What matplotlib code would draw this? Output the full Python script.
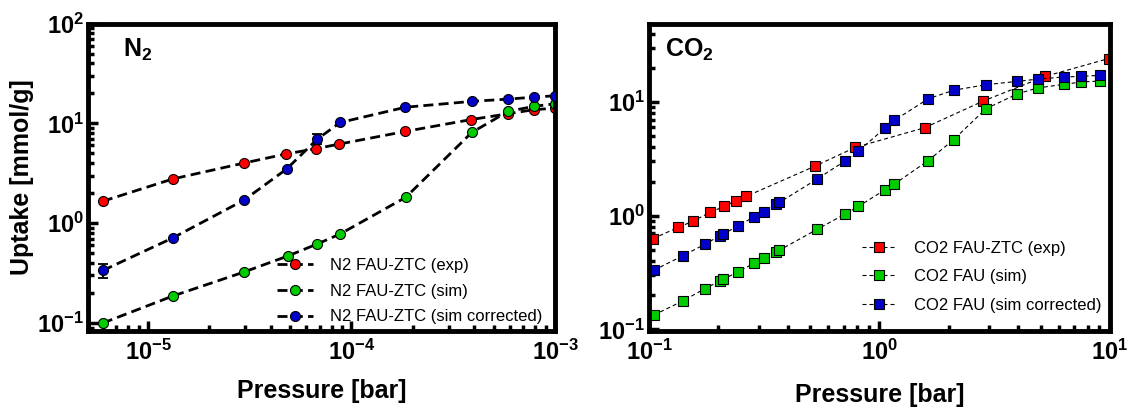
import numpy as np
import matplotlib
matplotlib.use("Agg")
import matplotlib.pyplot as plt
from matplotlib.ticker import LogLocator, FuncFormatter, NullFormatter

plt.rcParams["font.family"] = ["Liberation Sans", "DejaVu Sans"]
plt.rcParams["mathtext.fontset"] = "custom"
plt.rcParams["mathtext.rm"] = "Liberation Sans:bold"
plt.rcParams["mathtext.bf"] = "Liberation Sans:bold"
plt.rcParams["mathtext.it"] = "Liberation Sans:bold"
plt.rcParams["mathtext.default"] = "bf"

RED = "#ff0000"
GREEN = "#00cc00"
BLUE = "#0000c8"

# ---- N2 panel data (pressure in bar, uptake in mmol/g)
n2_exp_p = [6.0e-6, 1.32e-5, 2.96e-5, 4.75e-5, 6.7e-5, 8.7e-5, 1.84e-4, 3.86e-4, 5.9e-4, 7.87e-4, 1.0e-3]
n2_exp_q = [1.66, 2.77, 4.0, 4.93, 5.58, 6.2, 8.3, 10.9, 12.5, 13.7, 14.2]

n2_sim_p = [6.0e-6, 1.32e-5, 2.96e-5, 4.85e-5, 6.8e-5, 8.8e-5, 1.85e-4, 3.9e-4, 5.9e-4, 7.9e-4, 1.0e-3]
n2_sim_q = [0.10, 0.186, 0.324, 0.468, 0.62, 0.78, 1.82, 8.1, 13.2, 14.8, 15.7]

n2_cor_p = [6.0e-6, 1.32e-5, 2.96e-5, 4.8e-5, 6.8e-5, 8.8e-5, 1.84e-4, 3.9e-4, 5.9e-4, 7.9e-4, 1.0e-3]
n2_cor_q = [0.336, 0.71, 1.70, 3.49, 6.97, 10.2, 14.5, 16.6, 17.5, 18.3, 18.9]
n2_cor_err = [0.055, 0, 0, 0, 0.8, 0, 0, 0, 0, 0, 0]

# ---- CO2 panel data
co2_exp_p = [0.104, 0.134, 0.156, 0.184, 0.212, 0.238, 0.264, 0.525, 0.787, 1.57, 2.82, 5.23, 9.87]
co2_exp_q = [0.63, 0.79, 0.90, 1.07, 1.21, 1.36, 1.48, 2.73, 4.0, 5.94, 10.2, 16.8, 24.1]

co2_p = [0.105, 0.140, 0.175, 0.203, 0.210, 0.244, 0.286, 0.315, 0.357, 0.368, 0.538, 0.706,
         0.811, 1.06, 1.16, 1.63, 2.10, 2.90, 3.97, 4.86, 6.31, 7.51, 9.07]
co2_sim_q = [0.134, 0.178, 0.229, 0.267, 0.276, 0.323, 0.382, 0.429, 0.484, 0.498, 0.762, 1.03,
             1.21, 1.70, 1.90, 3.06, 4.68, 8.74, 11.8, 13.3, 14.3, 15.0, 15.3]
co2_cor_q = [0.332, 0.444, 0.562, 0.667, 0.69, 0.816, 0.98, 1.09, 1.27, 1.31, 2.11, 3.02,
             3.70, 5.94, 6.89, 10.7, 12.7, 14.2, 15.2, 15.9, 16.6, 16.8, 17.2]

fig = plt.figure(figsize=(11.31, 4.09), dpi=100)
ax0 = fig.add_axes([0.0778, 0.1907, 0.4129, 0.7518])
ax1 = fig.add_axes([0.5738, 0.1907, 0.4076, 0.7518])


def pow10(v, pos):
    e = int(round(np.log10(v)))
    return r"$\mathbf{10^{%d}}$" % e


def style_axis(ax):
    ax.set_xscale("log")
    ax.set_yscale("log")
    for side in ["left", "bottom", "top", "right"]:
        ax.spines[side].set_linewidth(3.5)
    ax.tick_params(which="both", direction="in", top=False, right=False, width=2.5,
                   labelsize=17)
    ax.tick_params(axis="x", pad=6.5)
    ax.tick_params(axis="y", pad=3)
    ax.tick_params(which="major", length=7.5)
    ax.tick_params(which="minor", length=4.5)
    for axis in (ax.xaxis, ax.yaxis):
        axis.set_major_locator(LogLocator(base=10, numticks=20))
        axis.set_minor_locator(LogLocator(base=10, subs=np.arange(2, 10), numticks=20))
        axis.set_major_formatter(FuncFormatter(pow10))
        axis.set_minor_formatter(NullFormatter())


# ---- left: N2
style_axis(ax0)
n2_line = dict(color="k", lw=2.0, dashes=(3.6, 1.9), marker="o", ms=7.2, mec="k", mew=0.8)
ax0.plot(n2_exp_p, n2_exp_q, mfc=RED, label="N2 FAU-ZTC (exp)", **n2_line)
ax0.plot(n2_sim_p, n2_sim_q, mfc=GREEN, label="N2 FAU-ZTC (sim)", **n2_line)
ax0.errorbar(n2_cor_p, n2_cor_q, yerr=n2_cor_err, fmt="none", ecolor="k", elinewidth=1.3,
             capsize=3.5, capthick=1.3, zorder=2)
ax0.plot(n2_cor_p, n2_cor_q, mfc=BLUE, label="N2 FAU-ZTC (sim corrected)", zorder=3, **n2_line)
ax0.set_xlim(5.07e-6, 1e-3)
ax0.set_ylim(10 ** -1.08, 100)
ax0.set_xlabel("Pressure [bar]", fontsize=18, fontweight="bold", labelpad=10)
ax0.set_ylabel("Uptake [mmol/g]", fontsize=18, fontweight="bold", labelpad=2)
ax0.text(0.075, 0.891, r"$\mathbf{N_2}$", transform=ax0.transAxes, fontsize=18,
         va="baseline", ha="left")
ax0.legend(loc="upper left", bbox_to_anchor=(0.405, 0.238), frameon=False, fontsize=12,
           handlelength=2.15, handletextpad=1.05, labelspacing=0.65, borderpad=0, borderaxespad=0)

# ---- right: CO2
style_axis(ax1)
co2_line = dict(color="k", lw=0.8, dashes=(3.6, 2.7), marker="s", ms=6.8, mec="k", mew=0.8)
ax1.plot(co2_exp_p, co2_exp_q, mfc=RED, label="CO2 FAU-ZTC (exp)", **co2_line)
ax1.plot(co2_p, co2_sim_q, mfc=GREEN, label="CO2 FAU (sim)", **co2_line)
ax1.plot(co2_p, co2_cor_q, mfc=BLUE, label="CO2 FAU (sim corrected)", **co2_line)
ax1.set_xlim(0.1, 10)
ax1.set_ylim(0.097, 49)
ax1.set_xlabel("Pressure [bar]", fontsize=18, fontweight="bold", labelpad=13)
ax1.text(0.035, 0.891, r"$\mathbf{CO_2}$", transform=ax1.transAxes, fontsize=18,
         va="baseline", ha="left")
ax1.legend(loc="upper left", bbox_to_anchor=(0.462, 0.294), frameon=False, fontsize=12,
           handlelength=2.1, handletextpad=1.0, labelspacing=0.82, borderpad=0, borderaxespad=0)

fig.savefig("out.png", dpi=100)
